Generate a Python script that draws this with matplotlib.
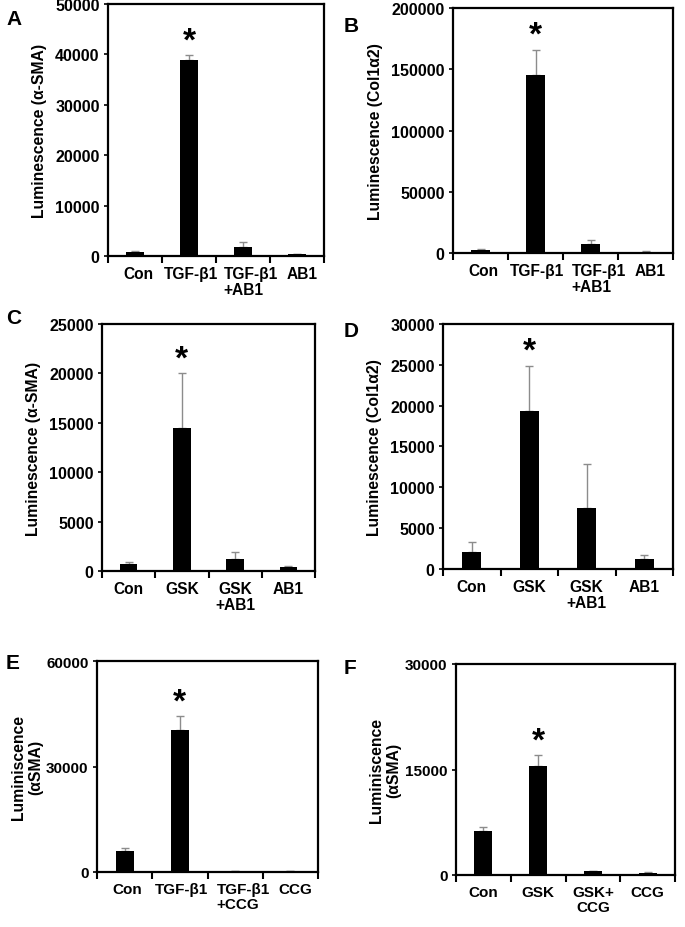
import matplotlib
matplotlib.use("Agg")
import matplotlib.pyplot as plt
import numpy as np

plt.rcParams['font.family'] = ['Liberation Sans', 'DejaVu Sans']
plt.rcParams['font.weight'] = 'bold'

W, H = 685, 928

# panel data
labels_A = ["Con", "TGF-β1", "TGF-β1\n+AB1", "AB1"]
vals_A = [700, 38900, 1800, 300]
errs_A = [200, 1000, 900, 100]

labels_B = ["Con", "TGF-β1", "TGF-β1\n+AB1", "AB1"]
vals_B = [2500, 145000, 7500, 1000]
errs_B = [500, 21000, 3500, 300]

labels_C = ["Con", "GSK", "GSK\n+AB1", "AB1"]
vals_C = [750, 14500, 1200, 400]
errs_C = [200, 5500, 700, 120]

labels_D = ["Con", "GSK", "GSK\n+AB1", "AB1"]
vals_D = [2100, 19400, 7500, 1200]
errs_D = [1200, 5500, 5400, 500]

labels_E = ["Con", "TGF-β1", "TGF-β1\n+CCG", "CCG"]
vals_E = [6000, 40500, 300, 200]
errs_E = [700, 3800, 60, 40]

labels_F = ["Con", "GSK", "GSK+\nCCG", "CCG"]
vals_F = [6300, 15500, 500, 350]
errs_F = [500, 1500, 60, 60]

fig = plt.figure(figsize=(W / 100, H / 100), dpi=100)


def panel(box, letter, letter_xy, labels, vals, errs, ymax, yticks, ylabel,
          align, star_idx=1, tsize=11.5, xsize=11.2, lsize=11.3, shifts=None,
          lpad=6):
    l, t, r, b = box
    ax = fig.add_axes([l / W, 1 - b / H, (r - l) / W, (b - t) / H])
    x = np.arange(len(vals))
    ax.bar(x, vals, width=0.33, color='black', zorder=2)
    ax.errorbar(x, vals, yerr=[np.zeros(len(errs)), errs], fmt='none',
                ecolor='#8c8c8c', elinewidth=1, capsize=3, capthick=1, zorder=1)
    top = vals[star_idx] + errs[star_idx]
    ax.annotate('*', xy=(star_idx, top), xytext=(0, -1), textcoords='offset points',
                ha='center', va='bottom', fontsize=24, fontweight='bold')
    ax.set_xlim(-0.5, len(vals) - 0.5)
    ax.set_ylim(0, ymax)
    ax.set_yticks(yticks)
    ax.set_yticklabels([str(v) for v in yticks], fontsize=tsize, fontweight='bold')
    # category labels, nudged a bit like the original layout
    ax.set_xticks(x)
    ax.set_xticklabels([])
    ax.tick_params(axis='x', which='major', length=0)
    if shifts is None:
        shifts = [0] * len(labels)
    for i, lab in enumerate(labels):
        ax.annotate(lab, xy=(i, 0), xycoords=('data', 'axes fraction'),
                    xytext=(shifts[i] * 0.72, -7), textcoords='offset points',
                    ha='center', va='top', ma=align, fontsize=xsize,
                    fontweight='bold', linespacing=1.1)
    ax.set_xticks(np.arange(-0.5, len(vals), 1.0), minor=True)
    ax.tick_params(axis='x', which='minor', length=5, width=1.5, direction='out')
    ax.tick_params(axis='y', length=3, width=1.2, direction='out', pad=3)
    for s in ax.spines.values():
        s.set_linewidth(1.6)
    ax.set_ylabel(ylabel, fontsize=lsize, fontweight='bold', labelpad=lpad)
    fig.text(letter_xy[0] / W, 1 - letter_xy[1] / H, letter, fontsize=15,
             fontweight='bold', ha='left', va='top')
    return ax


tgf_shift = [3, 2, 8, 5]

panel((108, 5, 324, 257), 'A', (6, 10), labels_A, vals_A, errs_A, 50000,
      [0, 10000, 20000, 30000, 40000, 50000], 'Luminescence (α-SMA)', 'left',
      shifts=tgf_shift)
panel((453, 9, 673, 254), 'B', (344, 17), labels_B, vals_B, errs_B, 200000,
      [0, 50000, 100000, 150000, 200000], 'Luminescence (Col1α2)', 'left',
      shifts=tgf_shift)
panel((102, 325, 315, 572), 'C', (6, 309), labels_C, vals_C, errs_C, 25000,
      [0, 5000, 10000, 15000, 20000, 25000], 'Luminescence (α-SMA)', 'center')
panel((443, 325, 673, 570), 'D', (344, 322), labels_D, vals_D, errs_D, 30000,
      [0, 5000, 10000, 15000, 20000, 25000, 30000], 'Luminescence (Col1α2)', 'center')
panel((97, 662, 318, 873), 'E', (6, 654), labels_E, vals_E, errs_E, 60000,
      [0, 30000, 60000], 'Luminiscence\n(αSMA)', 'left', tsize=11, xsize=11,
      shifts=tgf_shift, lpad=2)
panel((456, 665, 675, 876), 'F', (344, 659), labels_F, vals_F, errs_F, 30000,
      [0, 15000, 30000], 'Luminiscence\n(αSMA)', 'center', tsize=11, xsize=11,
      lpad=3)

fig.savefig('out.png', dpi=100)
